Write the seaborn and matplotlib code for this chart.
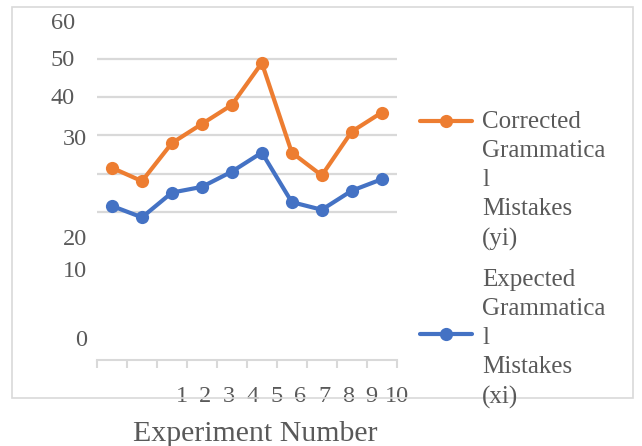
import matplotlib
matplotlib.use("Agg")
import matplotlib.pyplot as plt
from matplotlib.lines import Line2D
from matplotlib.patches import Rectangle
import seaborn as sns
import pandas as pd

# ---- data ----
experiments = [1, 2, 3, 4, 5, 6, 7, 8, 9, 10]
corrected = [21.5, 18, 28, 33, 38, 49, 25.5, 19.5, 31, 36]
expected = [11.5, 8.5, 15, 16.5, 20.5, 25.5, 12.5, 10.5, 15.5, 18.5]
series_names = ["Corrected\nGrammatica\nl\nMistakes\n(yi)",
                "Expected\nGrammatica\nl\nMistakes\n(xi)"]
x_tick_labels = ["1", "2", "3", "4", "5", "6", "7", "8", "9", "10"]
y_tick_labels = ["60", "50", "40", "30", "20", "10", "0"]
grid_values = [10, 20, 30, 40, 50, 60]
x_title = "Experiment Number"

# ---- layout (positions of the displaced labels, as drawn in the reference) ----
x_label_pos = [3.32, 4.10, 4.91, 5.69, 6.49, 7.29, 8.08, 8.88, 9.66, 10.51]
y_label_pos = [60, 50.2, 40.4, 29.7, 3.4, -5.1, -23.0]
y_label_pads = [16, 16, 16, 7, 7, 7, 7]

sns.set_theme(style="white")
plt.rcParams["font.family"] = ["Liberation Serif", "DejaVu Serif"]

TXT = "#595959"
GRID = "#d9d9d9"
ORANGE = "#ED7D31"
BLUE = "#4472C4"
W, H = 642, 446

df = pd.DataFrame({
    "experiment": experiments * 2,
    "value": corrected + expected,
    "series": [series_names[0]] * len(experiments) + [series_names[1]] * len(experiments),
})

fig = plt.figure(figsize=(W / 100, H / 100), dpi=100)
ax = fig.add_axes([97 / W, 86 / H, 300 / W, 339 / H])

sns.lineplot(data=df, x="experiment", y="value", hue="series",
             palette=[ORANGE, BLUE], marker="o", markersize=9.5,
             markeredgewidth=0, linewidth=3.0, legend=False, ax=ax, zorder=3)

ax.set_xlim(0.5, 10.5)
ax.set_ylim(-28.9, 60)

for s in ["top", "right", "left"]:
    ax.spines[s].set_visible(False)
ax.spines["bottom"].set_color(GRID)
ax.spines["bottom"].set_linewidth(1.5)

# y axis: gridlines on minor ticks, labels on major ticks
ax.set_yticks(grid_values, minor=True)
ax.set_yticks(y_label_pos)
ax.set_yticklabels(y_tick_labels)
ax.yaxis.grid(True, which="minor", color=GRID, linewidth=1.6)
ax.yaxis.grid(False, which="major")
ax.tick_params(axis="y", which="both", length=0, labelsize=17.5, labelcolor=TXT)
for t, p in zip(ax.yaxis.get_major_ticks(), y_label_pads):
    t.set_pad(p)

# x axis: tick marks between categories (minor), labels (major)
ax.set_xticks([e - 0.5 for e in experiments] + [experiments[-1] + 0.5], minor=True)
ax.set_xticks(x_label_pos)
ax.set_xticklabels(x_tick_labels)
ax.tick_params(axis="x", which="minor", length=6, width=1.5, color=GRID, direction="out", bottom=True)
ax.tick_params(axis="x", which="major", length=0, pad=18.5, labelsize=17.5, labelcolor=TXT)
ax.xaxis.grid(False)

ax.set_xlabel(x_title, fontsize=21.5, color=TXT, va="baseline")
ax.xaxis.set_label_coords((255.5 - 97) / 300, (360 - 441) / 339)
ax.set_ylabel("")

# chart border
fig.patches.append(Rectangle((12 / W, 48 / H), 621 / W, 391 / H, transform=fig.transFigure,
                             fill=False, edgecolor=GRID, linewidth=1.2, zorder=0))

# legend
for color, ly, ty, name in [(ORANGE, 121, 111, series_names[0]), (BLUE, 334, 269, series_names[1])]:
    fig.lines.append(Line2D([420 / W, 472 / W], [(H - ly) / H] * 2, transform=fig.transFigure,
                            color=color, linewidth=3.0))
    fig.lines.append(Line2D([446 / W], [(H - ly) / H], transform=fig.transFigure, color=color,
                            marker="o", markersize=9.5, markeredgewidth=0))
    fig.text(482 / W, (H - ty) / H, name, fontsize=18, color=TXT, va="top", ha="left",
             linespacing=1.42)

fig.savefig("out.png", dpi=100)
